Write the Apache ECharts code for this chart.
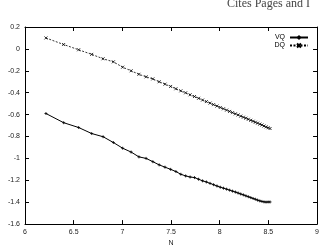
<!DOCTYPE html>
<html>
<head>
<meta charset="utf-8">
<script src="https://cdn.jsdelivr.net/npm/echarts@6/dist/echarts.min.js"></script>
<style>
  html, body { margin: 0; padding: 0; background: #fff; }
  #chart { width: 322px; height: 252px; }
</style>
</head>
<body>
<div id="chart"></div>
<script>
// x positions (log N, N = 500 ... 5000 step 100)
const xValues = [
  6.215, 6.397, 6.551, 6.685, 6.802, 6.908, 7.003, 7.090, 7.170, 7.244,
  7.313, 7.378, 7.438, 7.496, 7.550, 7.601, 7.650, 7.696, 7.741, 7.783,
  7.824, 7.863, 7.901, 7.937, 7.972, 8.006, 8.039, 8.071, 8.102, 8.132,
  8.161, 8.189, 8.216, 8.243, 8.269, 8.294, 8.319, 8.343, 8.366, 8.389,
  8.412, 8.434, 8.455, 8.476, 8.497, 8.517
];
const vqValues = [
  -0.590, -0.674, -0.718, -0.773, -0.802, -0.855, -0.907, -0.942, -0.986, -1.000,
  -1.030, -1.059, -1.080, -1.100, -1.120, -1.145, -1.160, -1.170, -1.175, -1.190,
  -1.205, -1.215, -1.228, -1.240, -1.252, -1.263, -1.272, -1.281, -1.290, -1.299,
  -1.307, -1.316, -1.325, -1.333, -1.342, -1.350, -1.358, -1.366, -1.373, -1.381,
  -1.388, -1.393, -1.397, -1.399, -1.398, -1.398
];
const dqValues = [
  0.100, 0.040, -0.008, -0.050, -0.090, -0.118, -0.167, -0.200, -0.232, -0.255,
  -0.274, -0.300, -0.322, -0.343, -0.364, -0.383, -0.401, -0.419, -0.435, -0.451,
  -0.467, -0.481, -0.495, -0.509, -0.522, -0.535, -0.547, -0.559, -0.571, -0.582,
  -0.593, -0.603, -0.614, -0.624, -0.633, -0.643, -0.652, -0.661, -0.670, -0.678,
  -0.687, -0.695, -0.704, -0.712, -0.720, -0.727
];
const xTicks = { min: 6, max: 9, interval: 0.5 };
const yTicks = { min: -1.6, max: 0.2, interval: 0.2 };

const font = 'Liberation Sans, Arial, sans-serif';
const chart = echarts.init(document.getElementById('chart'));

const pairs = (ys) => xValues.map((x, i) => [x, ys[i]]);

const axisCommon = {
  type: 'value',
  axisLine: { show: true, onZero: false, lineStyle: { color: '#000', width: 1 } },
  axisTick: { show: true, inside: true, length: 4, lineStyle: { color: '#000' } },
  splitLine: { show: false }
};

const option = {
  animation: false,
  title: {
    text: 'Cites Pages and I',
    left: 222,
    top: -7,
    textStyle: { fontFamily: 'Liberation Serif, serif', fontSize: 12, fontWeight: 'normal', color: '#444' }
  },
  grid: { left: 25, right: 3, top: 27, bottom: 19 },
  legend: {
    right: 8,
    top: 29,
    orient: 'vertical',
    align: 'right',
    itemWidth: 18,
    itemHeight: 5,
    itemGap: 1,
    textStyle: { fontFamily: font, fontSize: 7, color: '#000', padding: [0, 0, 0, 0] },
    data: ['VQ', 'DQ']
  },
  xAxis: [
    Object.assign({}, axisCommon, {
      min: xTicks.min, max: xTicks.max, interval: xTicks.interval,
      position: 'bottom',
      name: 'N', nameLocation: 'middle', nameGap: 11,
      nameTextStyle: { fontFamily: font, fontSize: 7, color: '#222' },
      axisLabel: { fontFamily: font, fontSize: 7, color: '#222', margin: 4 }
    }),
    Object.assign({}, axisCommon, {
      min: xTicks.min, max: xTicks.max, interval: xTicks.interval,
      position: 'top',
      axisLabel: { show: false }
    })
  ],
  yAxis: [
    Object.assign({}, axisCommon, {
      min: yTicks.min, max: yTicks.max, interval: yTicks.interval,
      position: 'left',
      axisLabel: {
        fontFamily: font, fontSize: 7, color: '#222', margin: 5,
        formatter: (v) => String(+v.toFixed(1))
      }
    }),
    Object.assign({}, axisCommon, {
      min: yTicks.min, max: yTicks.max, interval: yTicks.interval,
      position: 'right',
      axisLabel: { show: false }
    })
  ],
  series: [
    {
      name: 'VQ',
      type: 'line',
      data: pairs(vqValues),
      symbol: 'path://M5,0L5,10M0,5L10,5',
      symbolSize: 3,
      showSymbol: true,
      itemStyle: { color: '#000', borderColor: '#000', borderWidth: 0.8 },
      lineStyle: { color: '#000', width: 1 }
    },
    {
      name: 'DQ',
      type: 'line',
      data: pairs(dqValues),
      symbol: 'path://M0,0L10,10M10,0L0,10',
      symbolSize: 3,
      showSymbol: true,
      itemStyle: { color: '#000', borderColor: '#000', borderWidth: 0.8 },
      lineStyle: { color: '#000', width: 0.8, type: [2, 1.5] }
    }
  ]
};

chart.setOption(option);
</script>
</body>
</html>
